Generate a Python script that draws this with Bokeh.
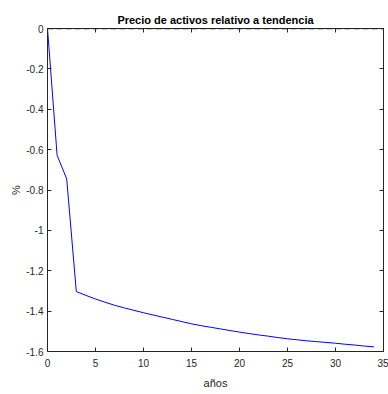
from bokeh.plotting import figure
from bokeh.models import LinearAxis, Span, Range1d, FixedTicker
from bokeh.embed import file_html
from bokeh.resources import INLINE

years = list(range(35))
price = [0.0, -0.628, -0.745, -1.303, -1.322, -1.340, -1.356, -1.371, -1.384, -1.396,
         -1.408, -1.419, -1.430, -1.441, -1.452, -1.463, -1.472, -1.480, -1.488, -1.496,
         -1.504, -1.511, -1.518, -1.524, -1.531, -1.537, -1.542, -1.547, -1.551, -1.555,
         -1.559, -1.564, -1.568, -1.573, -1.577]
x_ticks = [0, 5, 10, 15, 20, 25, 30, 35]
y_ticks = [0, -0.2, -0.4, -0.6, -0.8, -1.0, -1.2, -1.4, -1.6]
y_tick_labels = {0: "0", -0.2: "-0.2", -0.4: "-0.4", -0.6: "-0.6", -0.8: "-0.8",
                 -1.0: "-1", -1.2: "-1.2", -1.4: "-1.4", -1.6: "-1.6"}

FONT = "Liberation Sans"
AX = "#262626"

p = figure(width=388, height=394, output_backend="svg", toolbar_location=None,
           x_range=Range1d(0, 35), y_range=Range1d(-1.6, 0),
           min_border_left=47, min_border_right=5, min_border_top=28, min_border_bottom=43,
           title="Precio de activos relativo a tendencia")

p.title.align = "center"
p.title.text_font = FONT
p.title.text_font_size = "11px"
p.title.text_font_style = "bold"
p.title.text_color = "#000000"
p.title.standoff = 6

p.grid.visible = False
p.outline_line_color = AX
p.outline_line_width = 1
p.background_fill_color = "white"
p.border_fill_color = "white"

for ax in (p.xaxis[0], p.yaxis[0]):
    ax.axis_line_color = AX
    ax.major_tick_line_color = AX
    ax.major_tick_in = 4
    ax.major_tick_out = 0
    ax.minor_tick_line_color = None
    ax.major_label_text_font = FONT
    ax.major_label_text_font_size = "10px"
    ax.major_label_text_color = AX
    ax.axis_label_text_font = FONT
    ax.axis_label_text_font_size = "11px"
    ax.axis_label_text_color = AX
    ax.axis_label_text_font_style = "normal"

p.xaxis.ticker = FixedTicker(ticks=x_ticks)
p.yaxis.ticker = FixedTicker(ticks=y_ticks)
p.yaxis.major_label_overrides = y_tick_labels
p.xaxis.axis_label = "años"
p.yaxis.axis_label = "%"
p.xaxis.major_label_standoff = 7
p.yaxis.major_label_standoff = 4
p.xaxis.axis_label_standoff = 7
p.yaxis.axis_label_standoff = 1

empty_x = {t: "" for t in x_ticks}
empty_y = {t: "" for t in y_ticks}
top = LinearAxis(ticker=FixedTicker(ticks=x_ticks), major_label_overrides=empty_x,
                 major_label_standoff=0, major_tick_in=4, major_tick_out=0,
                 minor_tick_line_color=None, axis_line_color=AX, major_tick_line_color=AX)
right = LinearAxis(ticker=FixedTicker(ticks=y_ticks), major_label_overrides=empty_y,
                   major_label_standoff=0, major_tick_in=4, major_tick_out=0,
                   minor_tick_line_color=None, axis_line_color=AX, major_tick_line_color=AX)
p.add_layout(top, "above")
p.add_layout(right, "right")

p.line(years, price, line_color="#0000FF", line_width=1)

zero = Span(location=0, dimension="width", line_color="#222222", line_width=1.5,
            line_dash="6 3")
p.add_layout(zero)

open("out.html", "w").write(file_html(p, INLINE))
